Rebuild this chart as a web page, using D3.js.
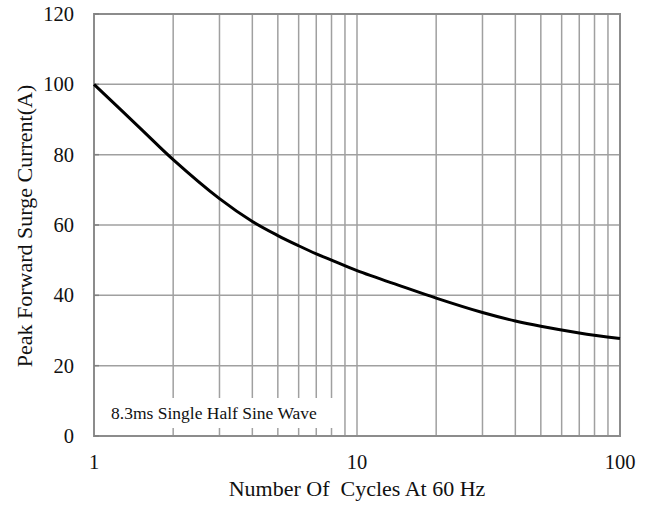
<!DOCTYPE html>
<html><head><meta charset="utf-8">
<script src="https://cdn.jsdelivr.net/npm/d3@7/dist/d3.min.js"></script>
<style>body{margin:0;background:#fff}svg{display:block}</style>
</head><body>
<svg id="c" width="652" height="510"></svg>
<script>
const cycles = [1,1.5,2,3,4,5,6,7,8,10,15,20,30,40,50,70,100];
const current = [100,87.5,78.6,67.5,61,57,54.1,51.8,50,47,42.4,39.2,35.1,32.7,31.2,29.3,27.7];
const yTicks = [0,20,40,60,80,100,120];
const xTicks = [1,10,100];
const xGrid = [2,3,4,5,6,7,8,9,10,20,30,40,50,60,70,80,90];
const note = "8.3ms Single Half Sine Wave";

const svg = d3.select("#c");
const L=94, R=620, T=14, B=436;
const x = d3.scaleLog().domain([1,100]).range([L,R]);
const y = d3.scaleLinear().domain([0,120]).range([B,T]);
const font = "'Liberation Serif','Times New Roman',serif";
const gridC = "#a0a0a0";

// grid
svg.append("g").selectAll("line.v").data(xGrid).join("line")
  .attr("x1",d=>x(d)).attr("x2",d=>x(d)).attr("y1",T).attr("y2",B)
  .attr("stroke",gridC).attr("stroke-width",1.5);
svg.append("g").selectAll("line.h").data(yTicks.filter(d=>d>0&&d<120)).join("line")
  .attr("x1",L).attr("x2",R).attr("y1",d=>y(d)).attr("y2",d=>y(d))
  .attr("stroke",gridC).attr("stroke-width",1.5);

// note box
const nb = svg.append("g");
nb.append("rect").attr("x",L+2).attr("y",398).attr("width",243).attr("height",30).attr("fill","#fff");
nb.append("text").attr("x",111).attr("y",419).attr("font-family",font).attr("font-size",17.5)
  .attr("fill","#111").text(note);

// frame
svg.append("rect").attr("x",L).attr("y",T).attr("width",R-L).attr("height",B-T)
  .attr("fill","none").attr("stroke","#8c8c8c").attr("stroke-width",2);
// y ticks
svg.append("g").selectAll("line").data(yTicks).join("line")
  .attr("x1",L).attr("x2",L+5).attr("y1",d=>y(d)).attr("y2",d=>y(d))
  .attr("stroke","#808080").attr("stroke-width",1.5);

// curve
const line = d3.line().x((d,i)=>x(cycles[i])).y(d=>y(d)).curve(d3.curveCatmullRom.alpha(0.5));
svg.append("path").datum(current).attr("d",line).attr("fill","none")
  .attr("stroke","#000").attr("stroke-width",3).attr("stroke-linejoin","round");

// tick labels
svg.append("g").selectAll("text").data(yTicks).join("text")
  .attr("x",74).attr("y",d=>y(d)+7).attr("text-anchor","end")
  .attr("font-family",font).attr("font-size",20.5).attr("fill","#111").text(d=>d);
svg.append("g").selectAll("text").data(xTicks).join("text")
  .attr("x",d=>x(d)).attr("y",469).attr("text-anchor","middle")
  .attr("font-family",font).attr("font-size",20.5).attr("fill","#111").text(d=>d);

// axis titles
svg.append("text").attr("x",357).attr("y",496).attr("text-anchor","middle")
  .attr("font-family",font).attr("font-size",22).attr("fill","#111")
  .attr("xml:space","preserve").style("white-space","pre").text("Number Of  Cycles At 60 Hz");
svg.append("text").attr("transform","translate(32,226) rotate(-90)").attr("text-anchor","middle")
  .attr("font-family",font).attr("font-size",22).attr("fill","#111")
  .text("Peak Forward Surge Current(A)");
</script>
</body></html>
